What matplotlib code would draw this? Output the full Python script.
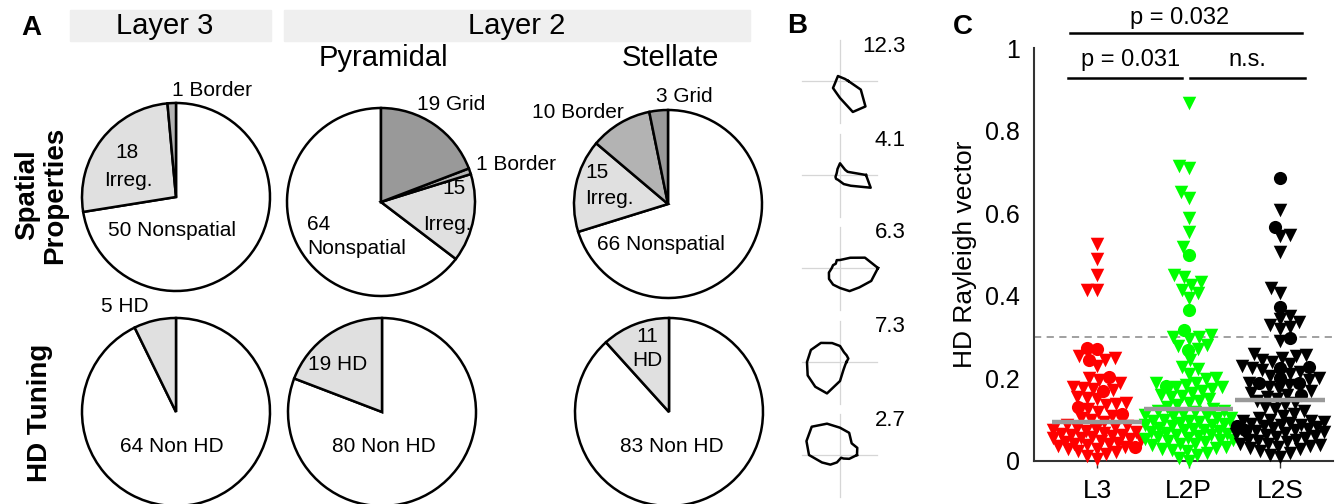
import numpy as np
import matplotlib.pyplot as plt
from matplotlib.patches import Rectangle

plt.rcParams['font.family'] = ['Liberation Sans', 'DejaVu Sans']

W, H = 1341, 504

# ---- panel A: cell counts ----
spatial_cats = ['Nonspatial', 'Irreg.', 'Border', 'Grid']
l3_spatial = [50, 18, 1, 0]
l2p_spatial = [64, 15, 1, 19]
l2s_spatial = [66, 15, 10, 3]
hd_cats = ['Non HD', 'HD']
l3_hd = [64, 5]
l2p_hd = [80, 19]
l2s_hd = [83, 11]

# ---- panel B: example HD polar plots (radius per direction) ----
b_angles = np.arange(0, 360, 22.5)
b_peak = [12.3, 4.1, 6.3, 7.3, 2.7]
b_radii = [
    [8.3, 5.4, 4.1, 3.8, 4.1, 5.4, 4.1, 3.8, 4.1, 5.3, 9.9, 11.6, 17, 33.5, 36, 22.5],
    [26, 8.3, 7.3, 8.3, 11.7, 6.5, 4.3, 3.7, 3.9, 4.9, 5.5, 5.2, 6.3, 9.8, 15.2, 33.2],
    [38, 27, 14.5, 9.5, 8, 8.5, 6, 7.5, 8.2, 12, 15.5, 18, 20, 25, 27.4, 33.8],
    [6.5, 9, 9.4, 10.5, 16, 20.5, 27, 31.5, 33, 35, 35, 34, 19, 8.8, 6.5, 5.9],
    [17, 18.7, 16.5, 24, 27.3, 33.9, 40, 36.3, 31, 19.5, 13.6, 8, 4, 3, 5, 10],
]

# ---- panel C: HD Rayleigh vector lengths ----
groups = ['L3', 'L2P', 'L2S']
l3_tri = [0.525, 0.49, 0.45, 0.415, 0.413, 0.255, 0.25, 0.245, 0.23, 0.2, 0.195, 0.19,
          0.178, 0.176, 0.175, 0.172, 0.155, 0.152, 0.15, 0.14, 0.138, 0.135, 0.125, 0.118,
          0.11, 0.105, 0.1, 0.095, 0.088, 0.085, 0.083, 0.08, 0.078, 0.075, 0.072, 0.07,
          0.068, 0.066, 0.064, 0.062, 0.06, 0.058, 0.056, 0.055, 0.053, 0.05, 0.048, 0.046,
          0.044, 0.042, 0.04, 0.038, 0.036, 0.033, 0.03, 0.028, 0.025, 0.022, 0.018, 0.012, 0.005]
l3_dot = [0.273, 0.27, 0.245, 0.204, 0.17, 0.13, 0.115, 0.034]
l2p_tri = [0.867, 0.715, 0.71, 0.652, 0.636, 0.588, 0.555, 0.519, 0.45, 0.445, 0.433, 0.426,
           0.414, 0.407, 0.395, 0.305, 0.3, 0.3, 0.295, 0.282, 0.278, 0.27, 0.244, 0.228,
           0.222, 0.21, 0.2, 0.198, 0.19, 0.188, 0.185, 0.18, 0.178, 0.175, 0.17, 0.165,
           0.16, 0.158, 0.155, 0.15, 0.145, 0.14, 0.135, 0.13, 0.125, 0.122, 0.12, 0.118,
           0.115, 0.112, 0.11, 0.108, 0.105, 0.103, 0.1, 0.098, 0.096, 0.094, 0.092, 0.09,
           0.088, 0.086, 0.084, 0.082, 0.08, 0.078, 0.076, 0.074, 0.072, 0.07, 0.068, 0.066,
           0.064, 0.062, 0.06, 0.058, 0.056, 0.054, 0.052, 0.05, 0.048, 0.045, 0.042, 0.04,
           0.038, 0.035, 0.032, 0.03, 0.027, 0.024, 0.02, 0.015, 0.008, 0.0]
l2p_dot = [0.499, 0.366, 0.317, 0.268, 0.182]
l2s_tri = [0.608, 0.547, 0.545, 0.506, 0.42, 0.407, 0.35, 0.345, 0.337, 0.33, 0.325, 0.32,
           0.29, 0.26, 0.257, 0.255, 0.25, 0.245, 0.24, 0.235, 0.23, 0.225, 0.22, 0.215,
           0.21, 0.205, 0.2, 0.195, 0.19, 0.185, 0.18, 0.175, 0.17, 0.165, 0.16, 0.155,
           0.15, 0.145, 0.14, 0.135, 0.13, 0.125, 0.12, 0.115, 0.11, 0.105, 0.1, 0.098,
           0.096, 0.094, 0.092, 0.09, 0.088, 0.086, 0.084, 0.082, 0.08, 0.078, 0.075, 0.072,
           0.07, 0.068, 0.065, 0.062, 0.06, 0.058, 0.055, 0.052, 0.05, 0.048, 0.045, 0.042,
           0.04, 0.038, 0.036, 0.034, 0.032, 0.03, 0.025, 0.02, 0.015, 0.01]
l2s_dot = [0.685, 0.567, 0.373, 0.298, 0.228, 0.225, 0.2, 0.19, 0.188, 0.16, 0.085, 0.075]
group_colors = ['#ff0000', '#00ff00', '#000000']

fig = plt.figure(figsize=(W / 100, H / 100), dpi=100)

# overlay axes in pixel units for labels and panel B
ov = fig.add_axes([0, 0, 1, 1], zorder=5)
ov.set_xlim(0, W)
ov.set_ylim(H, 0)
ov.axis('off')
ov.patch.set_alpha(0)

spatial_col = {'Nonspatial': 'white', 'Irreg.': '#e0e0e0', 'Border': '#b3b3b3', 'Grid': '#999999'}
hd_col = {'Non HD': 'white', 'HD': '#e0e0e0'}


def pie_at(cx, cy, counts, cats, cmap, clockwise):
    R = 94
    ax = fig.add_axes([(cx - R - 4) / W, (H - cy - R - 4) / H, (2 * R + 8) / W, (2 * R + 8) / H])
    vals = [v for v in counts if v > 0]
    cols = [cmap[c] for c, v in zip(cats, counts) if v > 0]
    ax.pie(vals, colors=cols, startangle=90, counterclock=not clockwise, radius=R / (R + 4),
           wedgeprops=dict(edgecolor='black', linewidth=1.8))
    ax.set_xlim(-1, 1)
    ax.set_ylim(-1, 1)
    ax.axis('off')


pie_at(176, 197, l3_spatial, spatial_cats, spatial_col, True)
pie_at(381, 202, l2p_spatial, spatial_cats, spatial_col, False)
pie_at(668, 204, l2s_spatial, spatial_cats, spatial_col, True)
pie_at(176, 412, l3_hd, hd_cats, hd_col, True)
pie_at(382, 412, l2p_hd, hd_cats, hd_col, True)
pie_at(669, 412, l2s_hd, hd_cats, hd_col, True)

# headers
ov.add_patch(Rectangle((70, 10), 201, 31, color='#efefef', zorder=0))
ov.add_patch(Rectangle((284, 10), 466, 31, color='#efefef', zorder=0))
ov.text(165, 26, 'Layer 3', fontsize=21, ha='center', va='center')
ov.text(517, 26, 'Layer 2', fontsize=21, ha='center', va='center')
ov.text(383, 58, 'Pyramidal', fontsize=21, ha='center', va='center')
ov.text(670, 58, 'Stellate', fontsize=21, ha='center', va='center')
ov.text(31, 28, 'A', fontsize=20, fontweight='bold', ha='center', va='center')
ov.text(797, 26, 'B', fontsize=20, fontweight='bold', ha='center', va='center')
ov.text(963, 27, 'C', fontsize=20, fontweight='bold', ha='center', va='center')
ov.text(41, 195, 'Spatial\nProperties', fontsize=20, fontweight='bold', rotation=90,
        ha='center', va='center', multialignment='center', linespacing=1.1)
ov.text(40, 413, 'HD Tuning', fontsize=20, fontweight='bold', rotation=90, ha='center', va='center')

# pie labels
fs = 15
ov.text(172, 90, f'{l3_spatial[2]} Border', fontsize=fs, ha='left', va='center')
ov.text(127, 153, f'{l3_spatial[1]}', fontsize=fs, ha='center', va='center')
ov.text(128, 180, 'Irreg.', fontsize=fs, ha='center', va='center')
ov.text(172, 230, f'{l3_spatial[0]} Nonspatial', fontsize=fs, ha='center', va='center')
ov.text(451, 105, f'{l2p_spatial[3]} Grid', fontsize=fs, ha='center', va='center')
ov.text(476, 165, f'{l2p_spatial[2]} Border', fontsize=fs, ha='left', va='center')
ov.text(454, 188, f'{l2p_spatial[1]}', fontsize=fs, ha='center', va='center')
ov.text(447, 224, 'Irreg.', fontsize=fs, ha='center', va='center')
ov.text(307, 225, f'{l2p_spatial[0]}', fontsize=fs, ha='left', va='center')
ov.text(307, 248, 'Nonspatial', fontsize=fs, ha='left', va='center')
ov.text(684, 97, f'{l2s_spatial[3]} Grid', fontsize=fs, ha='center', va='center')
ov.text(578, 112, f'{l2s_spatial[2]} Border', fontsize=fs, ha='center', va='center')
ov.text(585, 173, f'{l2s_spatial[1]}', fontsize=fs, ha='left', va='center')
ov.text(585, 198, 'Irreg.', fontsize=fs, ha='left', va='center')
ov.text(661, 245, f'{l2s_spatial[0]} Nonspatial', fontsize=fs, ha='center', va='center')
ov.text(125, 307, f'{l3_hd[1]} HD', fontsize=fs, ha='center', va='center')
ov.text(172, 447, f'{l3_hd[0]} Non HD', fontsize=fs, ha='center', va='center')
ov.text(338, 365, f'{l2p_hd[1]} HD', fontsize=fs, ha='center', va='center')
ov.text(384, 447, f'{l2p_hd[0]} Non HD', fontsize=fs, ha='center', va='center')
ov.text(647, 337, f'{l2s_hd[1]}', fontsize=fs, ha='center', va='center')
ov.text(647, 360, 'HD', fontsize=fs, ha='center', va='center')
ov.text(672, 447, f'{l2s_hd[0]} Non HD', fontsize=fs, ha='center', va='center')

# panel B polar plots
bx = 840
b_cy = [81, 175, 268, 362, 455]
th = np.deg2rad(b_angles)
for cy, peak, r in zip(b_cy, b_peak, b_radii):
    ov.plot([bx, bx], [cy - 41, cy + 42], color='#d6d6d6', lw=0.9)
    ov.plot([bx - 38, bx + 37], [cy, cy], color='#d6d6d6', lw=0.9)
    r = np.array(r)
    xs = bx + r * np.cos(th)
    ys = cy - r * np.sin(th)
    ov.plot(np.append(xs, xs[0]), np.append(ys, ys[0]), color='black', lw=1.8,
            solid_joinstyle='round')
    ov.text(906, cy - 35, f'{peak}', fontsize=16, ha='right', va='center')

# panel C
axc = fig.add_axes([1034 / W, (H - 461) / H, 299 / W, 413 / H])
sx, sy = 91.5, 413.0


def swarm(vals, d=10.0, wmax=44):
    vals = np.asarray(vals, dtype=float)
    order = np.argsort(vals)
    offs = np.zeros(len(vals))
    cands = [0.0]
    for s in range(1, wmax + 1):
        cands += [float(s), float(-s)]
    px, py = [], []
    for n, i in enumerate(order):
        y = vals[i] * sy
        best, bestd = 0.0, -1.0
        side = 1 if n % 2 == 0 else -1
        for c in cands:
            c = c * side
            if px:
                dist = np.min(np.hypot(np.array(px) - c, np.array(py) - y))
            else:
                dist = np.inf
            if dist >= d:
                best = c
                break
            if dist > bestd:
                bestd, best = dist, c
        offs[i] = best
        px.append(best)
        py.append(y)
    return offs / sx


data = [(l3_tri, l3_dot), (l2p_tri, l2p_dot), (l2s_tri, l2s_dot)]
for k, (tri, dot) in enumerate(data):
    pos = k + 1
    allv = np.array(tri + dot)
    xo = swarm(allv)
    nt = len(tri)
    axc.scatter(pos + xo[:nt], allv[:nt], marker='v', s=95, color=group_colors[k],
                linewidths=0, clip_on=False, zorder=3)
    axc.scatter(pos + xo[nt:], allv[nt:], marker='o', s=90, color=group_colors[k],
                linewidths=0, clip_on=False, zorder=3)
    axc.hlines(np.median(allv), pos - 0.49, pos + 0.49, color='#999999', lw=3.2, zorder=4)

axc.axhline(0.3, color='#999999', ls=(0, (4, 3)), lw=1.3, zorder=1)

axc.set_xlim(0.311, 3.579)
axc.set_ylim(0, 1)
axc.set_xticks([1, 2, 3])
axc.set_xticklabels(groups, fontsize=19)
axc.set_yticks([0, 0.2, 0.4, 0.6, 0.8, 1])
axc.set_yticklabels(['0', '0.2', '0.4', '0.6', '0.8', '1'], fontsize=18)
axc.tick_params(axis='y', length=0, pad=10)
axc.tick_params(axis='x', length=5, width=1, color='#333333', pad=8)
axc.set_ylabel('HD Rayleigh vector', fontsize=19, labelpad=6)
for s in ['top', 'right']:
    axc.spines[s].set_visible(False)
for s in ['left', 'bottom']:
    axc.spines[s].set_linewidth(1.5)
    axc.spines[s].set_color('#333333')

# significance bars
axc.plot([0.705, 3.24], [1.036, 1.036], color='black', lw=1.8, clip_on=False)
axc.text(1.907, 1.073, 'p = 0.032', fontsize=17, ha='center', va='center', clip_on=False)
axc.plot([0.683, 1.93], [0.927, 0.927], color='black', lw=1.8, clip_on=False)
axc.text(1.37, 0.971, 'p = 0.031', fontsize=17, ha='center', va='center', clip_on=False)
axc.plot([2.02, 3.27], [0.927, 0.927], color='black', lw=1.8, clip_on=False)
axc.text(2.64, 0.971, 'n.s.', fontsize=17, ha='center', va='center', clip_on=False)

fig.savefig('out.png', dpi=100)
